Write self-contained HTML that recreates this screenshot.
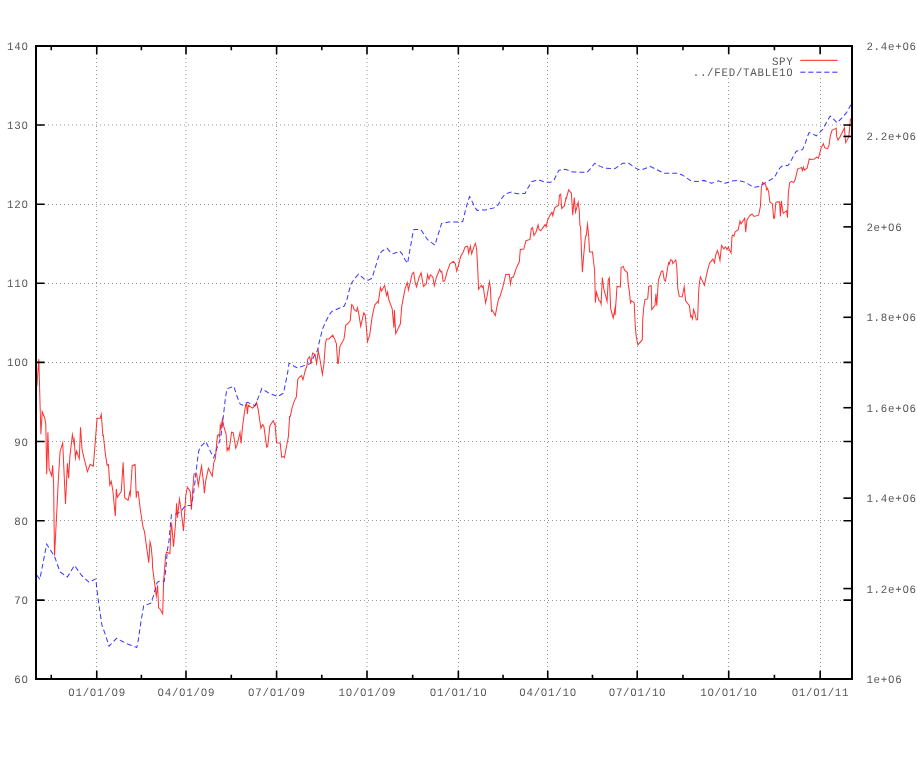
<!DOCTYPE html>
<html><head><meta charset="utf-8"><title>plot</title>
<style>html,body{margin:0;padding:0;background:#fff}body{width:917px;height:768px;overflow:hidden;font-family:"Liberation Mono",monospace}</style></head>
<body>
<svg width="917" height="768" viewBox="0 0 917 768" style="display:block;will-change:transform">
<rect width="917" height="768" fill="#fff"/>
<g stroke="#949494" stroke-width="1" stroke-dasharray="1 3" fill="none">
<path d="M36.0 125.0H852.0"/>
<path d="M36.0 204.5H852.0"/>
<path d="M36.0 283.5H852.0"/>
<path d="M36.0 362.5H852.0"/>
<path d="M36.0 441.5H852.0"/>
<path d="M36.0 520.5H852.0"/>
<path d="M36.0 600.5H852.0"/>
<path d="M96.5 679.0V46.0"/>
<path d="M186.0 679.0V46.0"/>
<path d="M276.5 679.0V46.0"/>
<path d="M367.0 679.0V46.0"/>
<path d="M458.5 679.0V46.0"/>
<path d="M547.5 679.0V46.0"/>
<path d="M637.5 679.0V46.0"/>
<path d="M728.5 679.0V77.5"/>
<path d="M820.5 679.0V77.5"/>
</g>
<path d="M36.9 575.2 L39.8 579.4 L46.7 544.1 L54.5 556.4 L60.1 572.0 L67.4 577.0 L74.5 565.4 L81.4 575.2 L88.9 582.1 L95.8 578.9 L97.0 590.0 L98.8 603.8 L101.9 625.2 L105.1 633.9 L109.1 646.2 L116.4 638.3 L122.6 641.5 L128.9 644.6 L136.8 647.5 L138.3 640.2 L140.8 622.7 L143.7 605.7 L150.8 603.2 L153.3 596.3 L157.1 582.5 L159.0 581.3 L164.3 581.2 L165.7 570.1 L167.4 550.1 L169.1 540.0 L170.4 525.0 L171.4 514.9 L174.5 514.6 L178.3 513.1 L181.4 510.9 L185.2 505.8 L191.4 505.2 L193.3 495.2 L195.2 480.1 L197.1 462.6 L198.7 451.3 L200.2 446.9 L205.9 441.5 L210.3 451.3 L213.7 457.8 L216.9 448.4 L220.7 437.7 L223.2 417.7 L225.0 401.4 L226.9 388.8 L233.8 386.3 L237.0 396.3 L240.1 403.9 L242.4 405.1 L247.6 402.4 L255.1 405.7 L258.3 397.6 L261.8 388.6 L268.9 393.2 L277.7 396.6 L283.4 393.2 L285.2 385.0 L287.7 372.3 L289.0 363.4 L290.3 363.4 L294.4 366.5 L297.6 367.8 L305.1 365.3 L310.7 363.4 L313.9 356.5 L317.6 350.2 L319.1 342.7 L322.6 328.9 L325.8 321.4 L329.5 314.5 L332.0 311.3 L344.0 306.3 L346.5 301.3 L348.7 292.5 L350.8 284.3 L354.4 278.9 L358.5 274.1 L361.3 276.4 L365.1 279.9 L368.2 280.2 L372.0 278.3 L374.5 270.1 L377.0 262.0 L379.5 253.8 L382.6 250.7 L387.0 248.2 L390.1 251.9 L392.9 253.8 L396.4 252.6 L399.6 251.1 L402.1 253.8 L404.9 259.5 L407.6 263.4 L409.0 255.1 L410.8 245.0 L412.6 234.5 L414.0 229.6 L420.7 229.3 L423.8 234.0 L427.6 239.7 L435.1 245.3 L437.0 237.8 L439.5 230.3 L441.6 223.4 L448.9 221.9 L458.9 222.1 L462.7 221.5 L465.2 211.4 L467.5 202.7 L469.6 196.6 L472.1 201.4 L474.6 207.1 L477.1 210.4 L485.3 209.9 L494.0 207.9 L497.8 205.2 L502.2 197.7 L505.3 193.9 L511.6 192.0 L517.1 193.8 L525.0 193.4 L528.8 186.5 L531.9 181.4 L538.8 179.9 L545.1 182.1 L550.8 182.3 L553.9 180.2 L558.9 170.2 L565.2 169.3 L572.7 172.0 L587.1 172.4 L590.3 168.9 L594.7 163.3 L600.3 166.4 L605.3 168.3 L614.7 168.7 L619.1 165.8 L622.5 163.3 L628.8 163.3 L633.8 167.0 L638.2 169.5 L643.2 169.3 L650.1 166.4 L656.4 169.5 L663.9 173.3 L678.3 173.3 L682.7 175.2 L691.5 181.2 L697.8 181.5 L704.0 180.4 L711.6 183.3 L718.5 180.8 L725.4 183.3 L731.3 181.1 L737.5 180.5 L742.6 181.4 L747.6 183.6 L753.8 187.4 L758.9 186.6 L762.6 184.5 L768.9 180.7 L774.5 177.6 L777.0 172.6 L780.2 167.6 L782.1 166.1 L788.3 165.3 L790.8 161.3 L793.3 156.3 L796.3 151.3 L802.6 149.6 L805.1 143.9 L807.0 137.7 L809.1 132.6 L812.7 133.9 L816.2 135.8 L820.2 132.0 L823.3 128.9 L826.4 122.6 L830.2 116.1 L833.3 118.8 L837.1 122.9 L842.8 117.0 L846.5 112.6 L850.9 104.8" fill="none" stroke="#0000ff" stroke-opacity="0.78" stroke-width="1.02" stroke-dasharray="5 3" stroke-linejoin="miter" stroke-miterlimit="10"/>
<path d="M36.9 386.0 L38.8 359.1 L40.9 434.3 L42.2 411.7 L44.8 418.5 L45.8 424.0 L46.7 474.2 L47.9 432.3 L49.1 469.0 L51.7 476.0 L52.6 465.2 L53.6 483.0 L54.5 555.7 L57.0 507.7 L58.2 482.6 L60.1 451.3 L62.7 442.9 L65.5 504.0 L67.4 463.2 L68.6 478.2 L69.9 456.4 L72.4 434.7 L73.9 443.1 L74.3 440.7 L75.4 457.7 L76.5 451.1 L79.3 458.7 L80.5 427.3 L82.0 448.9 L83.9 457.7 L87.4 471.6 L90.2 464.2 L93.3 466.2 L95.2 442.6 L97.1 418.2 L100.2 418.2 L101.3 414.4 L102.8 435.2 L103.3 435.0 L105.2 452.7 L107.1 465.2 L108.4 464.6 L109.8 484.9 L111.2 481.2 L112.8 490.3 L115.3 515.9 L116.3 488.9 L117.3 497.4 L121.3 491.4 L123.1 462.3 L124.7 497.7 L128.1 500.4 L129.7 492.5 L130.3 495.2 L132.2 465.7 L135.1 464.5 L136.3 497.7 L136.8 492.0 L138.2 491.7 L140.4 510.2 L142.9 526.5 L144.4 531.3 L148.8 562.6 L150.0 541.9 L151.1 546.3 L152.3 558.9 L152.6 567.6 L156.3 596.2 L157.6 585.2 L158.6 607.8 L160.1 609.0 L162.7 613.9 L163.6 581.4 L165.7 555.1 L166.6 552.0 L169.9 553.6 L171.1 526.3 L171.7 524.0 L173.5 546.6 L175.4 525.0 L176.6 503.3 L177.4 517.8 L179.5 499.1 L180.8 507.7 L183.5 530.9 L185.8 495.2 L187.4 487.2 L190.2 491.4 L191.4 509.6 L192.5 492.7 L194.0 474.1 L196.7 474.1 L198.3 485.5 L201.5 466.1 L203.4 481.4 L204.4 493.3 L205.6 481.4 L208.4 468.3 L212.3 476.3 L213.8 462.6 L215.3 458.8 L217.5 435.2 L218.8 434.6 L219.6 436.6 L220.3 425.2 L221.0 428.6 L222.4 419.2 L223.8 426.4 L226.1 434.0 L227.1 450.5 L228.2 447.8 L229.0 450.0 L229.8 445.2 L231.6 432.1 L233.2 432.7 L235.8 448.2 L237.0 445.2 L240.0 432.6 L241.1 443.4 L242.4 427.7 L243.9 416.4 L245.7 404.5 L246.5 403.5 L247.4 413.9 L248.2 405.1 L252.6 408.2 L255.1 405.7 L256.6 402.5 L258.3 410.1 L260.9 428.3 L262.7 424.6 L263.9 426.4 L266.7 447.1 L267.7 446.5 L269.9 425.8 L273.3 420.6 L274.6 424.5 L275.1 423.9 L276.5 442.7 L280.2 443.0 L281.7 457.2 L283.4 456.5 L284.4 457.7 L286.5 446.5 L288.4 436.5 L289.6 416.4 L290.3 416.4 L292.1 407.6 L294.7 400.1 L296.3 397.0 L297.8 379.4 L299.4 377.0 L301.5 375.5 L303.0 379.8 L305.0 371.5 L307.0 365.3 L307.8 359.0 L309.5 356.8 L311.0 362.6 L312.6 353.0 L315.1 354.6 L316.6 363.4 L318.3 351.1 L319.9 359.0 L322.4 374.4 L323.9 364.0 L325.4 343.9 L326.4 338.9 L328.9 338.9 L332.7 335.2 L334.6 338.9 L336.4 343.9 L337.7 363.4 L338.3 363.4 L339.9 346.4 L344.0 338.9 L345.8 325.1 L348.3 323.2 L350.2 320.7 L351.7 304.5 L353.0 305.7 L354.0 309.5 L356.5 311.3 L357.5 307.6 L358.8 313.8 L360.7 326.2 L363.8 312.8 L365.3 315.1 L366.3 326.4 L367.5 341.6 L369.7 335.2 L372.2 316.4 L374.7 305.1 L377.8 301.4 L378.3 302.6 L380.4 287.6 L381.6 291.0 L384.6 285.5 L386.6 295.6 L387.6 292.1 L388.9 300.0 L392.2 308.8 L393.9 327.6 L394.4 310.1 L395.7 333.8 L400.4 323.8 L401.6 307.4 L403.4 297.4 L405.3 287.8 L407.2 282.5 L408.4 289.9 L410.2 282.7 L412.1 273.9 L413.7 272.4 L415.2 282.7 L416.5 287.0 L419.0 277.7 L421.1 272.7 L423.4 286.4 L426.3 283.9 L427.6 274.5 L429.0 279.3 L430.3 274.9 L432.8 277.0 L434.3 285.8 L436.5 277.0 L439.7 269.2 L440.9 272.0 L441.8 271.4 L443.1 281.4 L444.7 280.8 L447.2 271.4 L450.1 263.6 L453.5 261.4 L455.4 263.9 L456.7 271.0 L458.5 265.1 L460.7 256.4 L463.2 252.0 L465.1 246.9 L467.6 246.1 L468.7 253.2 L470.4 246.1 L471.7 253.9 L473.9 246.9 L475.4 243.4 L476.6 248.8 L477.6 266.4 L478.6 289.2 L481.4 285.2 L482.4 287.4 L483.2 286.1 L484.1 292.7 L485.6 302.9 L487.0 296.5 L489.5 281.7 L490.4 287.7 L491.5 311.2 L492.4 310.3 L495.3 315.5 L497.1 305.9 L498.7 298.4 L499.6 297.7 L502.7 287.7 L505.8 274.5 L509.2 274.2 L510.5 283.9 L511.5 277.7 L513.4 277.0 L516.5 267.6 L519.3 262.0 L520.3 249.5 L523.8 249.1 L525.9 240.7 L530.0 239.4 L531.3 228.8 L532.5 227.5 L533.9 235.4 L535.9 232.5 L538.1 225.0 L539.0 229.5 L540.7 230.8 L543.8 226.4 L545.1 224.6 L546.1 226.8 L547.6 220.1 L550.1 215.1 L551.9 212.3 L552.8 215.7 L554.8 207.6 L558.6 205.1 L559.5 195.0 L560.7 194.1 L561.7 208.6 L564.5 205.7 L565.9 198.0 L566.4 198.5 L568.6 189.9 L571.4 193.2 L572.7 215.1 L574.3 197.6 L575.5 212.0 L578.2 202.3 L579.2 210.1 L579.9 225.1 L580.6 227.0 L581.4 250.2 L582.4 272.2 L583.7 255.2 L585.2 238.9 L585.9 235.5 L586.3 235.6 L587.5 224.5 L588.7 236.4 L589.6 252.1 L592.5 252.1 L593.7 262.8 L594.6 270.3 L595.0 286.4 L595.4 302.7 L596.4 292.1 L599.1 300.8 L600.3 301.4 L601.1 304.1 L602.3 277.6 L603.8 288.9 L607.1 301.4 L608.2 280.1 L609.3 278.0 L610.1 295.1 L610.7 308.9 L613.2 317.9 L614.9 308.9 L615.1 315.2 L617.0 286.4 L620.4 287.0 L621.1 267.5 L623.3 266.5 L624.5 270.0 L627.4 272.6 L628.3 285.1 L629.2 290.1 L630.5 302.8 L631.4 300.8 L634.2 302.7 L635.2 325.2 L636.2 336.5 L637.9 344.9 L642.3 339.7 L642.7 320.2 L643.7 307.7 L645.0 299.5 L647.7 298.9 L648.7 286.4 L651.2 285.7 L651.8 309.5 L655.0 305.2 L655.9 293.9 L656.8 305.8 L658.4 280.1 L661.5 271.3 L662.8 271.1 L664.3 280.1 L665.5 281.2 L667.8 266.3 L668.7 262.6 L669.4 264.0 L670.5 259.8 L672.2 260.6 L672.8 263.7 L675.8 260.0 L676.8 267.5 L677.8 288.9 L679.3 296.4 L682.2 297.0 L684.2 286.8 L685.6 300.8 L689.4 305.8 L690.7 316.9 L691.5 315.8 L692.5 318.9 L693.6 309.4 L695.0 314.0 L696.3 320.0 L697.6 319.7 L698.6 292.7 L699.4 282.7 L700.4 276.8 L702.6 281.4 L704.4 285.3 L707.0 272.6 L709.5 263.2 L712.9 259.1 L714.4 262.8 L715.7 255.1 L717.4 250.6 L718.9 255.1 L720.0 260.6 L721.5 245.4 L723.9 248.8 L725.4 246.9 L727.0 249.7 L728.3 247.1 L729.5 250.1 L731.1 252.9 L732.0 236.3 L732.7 235.0 L733.9 236.0 L735.2 231.9 L738.2 229.6 L740.0 221.0 L741.1 223.8 L744.7 218.2 L745.7 232.1 L746.9 220.2 L749.5 215.8 L752.0 214.0 L754.1 216.5 L758.6 215.2 L760.4 206.4 L761.4 187.6 L762.6 182.4 L764.5 183.6 L765.8 185.1 L766.7 189.9 L767.4 188.3 L768.6 191.4 L769.9 202.0 L772.4 203.9 L773.7 218.3 L774.5 218.3 L775.8 202.7 L777.0 201.7 L779.6 202.0 L780.4 216.5 L781.4 200.8 L782.4 208.9 L783.3 213.3 L784.6 212.1 L786.7 210.8 L787.5 217.7 L788.3 193.9 L789.6 182.9 L791.5 181.4 L793.7 182.6 L795.2 179.5 L797.7 168.8 L801.5 167.6 L802.4 170.7 L803.4 167.1 L804.3 170.1 L807.1 168.2 L809.3 158.8 L810.3 159.4 L814.7 159.0 L816.4 157.1 L818.3 158.3 L819.6 154.0 L820.8 148.9 L823.3 143.6 L824.6 147.7 L827.7 148.7 L829.0 145.2 L830.2 136.4 L832.1 130.1 L835.2 128.9 L836.2 128.2 L836.7 136.4 L838.0 140.1 L840.2 136.4 L843.4 130.1 L844.4 127.7 L845.6 142.7 L847.8 138.9 L848.8 136.4 L849.6 128.9 L850.4 119.1 L851.3 120.1" fill="none" stroke="#ff0000" stroke-opacity="0.8" stroke-width="1.02" stroke-linejoin="miter" stroke-miterlimit="10"/>
<path d="M800.3 60.3H837.6" stroke="#ff0000" stroke-opacity="0.88" stroke-width="1" fill="none"/>
<path d="M800.3 72.2H837.6" stroke="#0000ff" stroke-opacity="0.85" stroke-width="1" stroke-dasharray="5 3" fill="none"/>
<g stroke="#000" stroke-width="1.6" fill="none">
<path d="M96.75 679.0v-8.2M96.75 46.0v8.2"/>
<path d="M186.0 679.0v-8.2M186.0 46.0v8.2"/>
<path d="M276.6 679.0v-8.2M276.6 46.0v8.2"/>
<path d="M367.0 679.0v-8.2M367.0 46.0v8.2"/>
<path d="M458.35 679.0v-8.2M458.35 46.0v8.2"/>
<path d="M547.75 679.0v-8.2M547.75 46.0v8.2"/>
<path d="M637.2 679.0v-8.2M637.2 46.0v8.2"/>
<path d="M728.7 679.0v-8.2M728.7 46.0v8.2"/>
<path d="M820.15 679.0v-8.2M820.15 46.0v8.2"/>
<path d="M51.25 679.0v-4.2M51.25 46.0v4.2"/>
<path d="M141.38 679.0v-4.2M141.38 46.0v4.2"/>
<path d="M231.30 679.0v-4.2M231.30 46.0v4.2"/>
<path d="M321.80 679.0v-4.2M321.80 46.0v4.2"/>
<path d="M412.68 679.0v-4.2M412.68 46.0v4.2"/>
<path d="M503.05 679.0v-4.2M503.05 46.0v4.2"/>
<path d="M592.48 679.0v-4.2M592.48 46.0v4.2"/>
<path d="M682.95 679.0v-4.2M682.95 46.0v4.2"/>
<path d="M774.42 679.0v-4.2M774.42 46.0v4.2"/>
<path d="M36.0 125.0h8.6M852.0 125.0h-8.6"/>
<path d="M36.0 204.2h8.6M852.0 204.2h-8.6"/>
<path d="M36.0 283.3h8.6M852.0 283.3h-8.6"/>
<path d="M36.0 362.4h8.6M852.0 362.4h-8.6"/>
<path d="M36.0 441.5h8.6M852.0 441.5h-8.6"/>
<path d="M36.0 520.7h8.6M852.0 520.7h-8.6"/>
<path d="M36.0 600.1h8.6M852.0 600.1h-8.6"/>
<path d="M852.0 136.43h-8.6"/>
<path d="M852.0 226.86h-8.6"/>
<path d="M852.0 317.29h-8.6"/>
<path d="M852.0 407.71h-8.6"/>
<path d="M852.0 498.14h-8.6"/>
<path d="M852.0 588.57h-8.6"/>
</g>
<rect x="36.0" y="46.0" width="816.0" height="633.0" fill="none" stroke="#000" stroke-width="2"/>
<g font-family="Liberation Mono, monospace" font-size="12px" text-rendering="geometricPrecision" letter-spacing="0.800" fill="#565656">
<text transform="translate(7.10 50.00) scale(0.9 0.95)">140</text>
<text transform="translate(7.10 129.00) scale(0.9 0.95)">130</text>
<text transform="translate(7.10 208.20) scale(0.9 0.95)">120</text>
<text transform="translate(7.10 287.30) scale(0.9 0.95)">110</text>
<text transform="translate(7.10 366.40) scale(0.9 0.95)">100</text>
<text transform="translate(14.30 445.50) scale(0.9 0.95)">90</text>
<text transform="translate(14.30 524.70) scale(0.9 0.95)">80</text>
<text transform="translate(14.30 604.10) scale(0.9 0.95)">70</text>
<text transform="translate(14.30 683.00) scale(0.9 0.95)">60</text>
<text transform="translate(866.40 50.00) scale(0.9 0.95)">2.4e+06</text>
<text transform="translate(866.40 140.43) scale(0.9 0.95)">2.2e+06</text>
<text transform="translate(866.40 230.86) scale(0.9 0.95)">2e+06</text>
<text transform="translate(866.40 321.29) scale(0.9 0.95)">1.8e+06</text>
<text transform="translate(866.40 411.71) scale(0.9 0.95)">1.6e+06</text>
<text transform="translate(866.40 502.14) scale(0.9 0.95)">1.4e+06</text>
<text transform="translate(866.40 592.57) scale(0.9 0.95)">1.2e+06</text>
<text transform="translate(866.40 683.00) scale(0.9 0.95)">1e+06</text>
<text transform="translate(68.25 695.90) scale(0.9 0.95)">01/01/09</text>
<text transform="translate(157.50 695.90) scale(0.9 0.95)">04/01/09</text>
<text transform="translate(248.10 695.90) scale(0.9 0.95)">07/01/09</text>
<text transform="translate(338.50 695.90) scale(0.9 0.95)">10/01/09</text>
<text transform="translate(429.85 695.90) scale(0.9 0.95)">01/01/10</text>
<text transform="translate(519.25 695.90) scale(0.9 0.95)">04/01/10</text>
<text transform="translate(608.70 695.90) scale(0.9 0.95)">07/01/10</text>
<text transform="translate(700.20 695.90) scale(0.9 0.95)">10/01/10</text>
<text transform="translate(791.65 695.90) scale(0.9 0.95)">01/01/11</text>
<text transform="translate(771.90 64.50) scale(0.9 0.95)">SPY</text>
<text transform="translate(692.70 76.40) scale(0.9 0.95)">../FED/TABLE10</text>
</g>
<g fill="#fff"><rect x="23.75" y="45.05" width="1.95" height="2.3"/><rect x="23.75" y="124.05" width="1.95" height="2.3"/><rect x="23.75" y="203.25" width="1.95" height="2.3"/><rect x="23.75" y="282.35" width="1.95" height="2.3"/><rect x="16.55" y="361.45" width="1.95" height="2.3"/><rect x="23.75" y="361.45" width="1.95" height="2.3"/><rect x="23.75" y="440.55" width="1.95" height="2.3"/><rect x="23.75" y="519.75" width="1.95" height="2.3"/><rect x="23.75" y="599.15" width="1.95" height="2.3"/><rect x="23.75" y="678.05" width="1.95" height="2.3"/><rect x="904.65" y="45.05" width="1.95" height="2.3"/><rect x="904.65" y="135.48" width="1.95" height="2.3"/><rect x="890.25" y="225.91" width="1.95" height="2.3"/><rect x="904.65" y="316.34" width="1.95" height="2.3"/><rect x="904.65" y="406.76" width="1.95" height="2.3"/><rect x="904.65" y="497.19" width="1.95" height="2.3"/><rect x="904.65" y="587.62" width="1.95" height="2.3"/><rect x="890.25" y="678.05" width="1.95" height="2.3"/><rect x="70.50" y="690.95" width="1.95" height="2.3"/><rect x="92.10" y="690.95" width="1.95" height="2.3"/><rect x="113.70" y="690.95" width="1.95" height="2.3"/><rect x="159.75" y="690.95" width="1.95" height="2.3"/><rect x="181.35" y="690.95" width="1.95" height="2.3"/><rect x="202.95" y="690.95" width="1.95" height="2.3"/><rect x="250.35" y="690.95" width="1.95" height="2.3"/><rect x="271.95" y="690.95" width="1.95" height="2.3"/><rect x="293.55" y="690.95" width="1.95" height="2.3"/><rect x="347.95" y="690.95" width="1.95" height="2.3"/><rect x="362.35" y="690.95" width="1.95" height="2.3"/><rect x="383.95" y="690.95" width="1.95" height="2.3"/><rect x="432.10" y="690.95" width="1.95" height="2.3"/><rect x="453.70" y="690.95" width="1.95" height="2.3"/><rect x="482.50" y="690.95" width="1.95" height="2.3"/><rect x="521.50" y="690.95" width="1.95" height="2.3"/><rect x="543.10" y="690.95" width="1.95" height="2.3"/><rect x="571.90" y="690.95" width="1.95" height="2.3"/><rect x="610.95" y="690.95" width="1.95" height="2.3"/><rect x="632.55" y="690.95" width="1.95" height="2.3"/><rect x="661.35" y="690.95" width="1.95" height="2.3"/><rect x="709.65" y="690.95" width="1.95" height="2.3"/><rect x="724.05" y="690.95" width="1.95" height="2.3"/><rect x="752.85" y="690.95" width="1.95" height="2.3"/><rect x="793.90" y="690.95" width="1.95" height="2.3"/><rect x="815.50" y="690.95" width="1.95" height="2.3"/><rect x="788.55" y="71.45" width="1.95" height="2.3"/></g>
</svg>
</body></html>
